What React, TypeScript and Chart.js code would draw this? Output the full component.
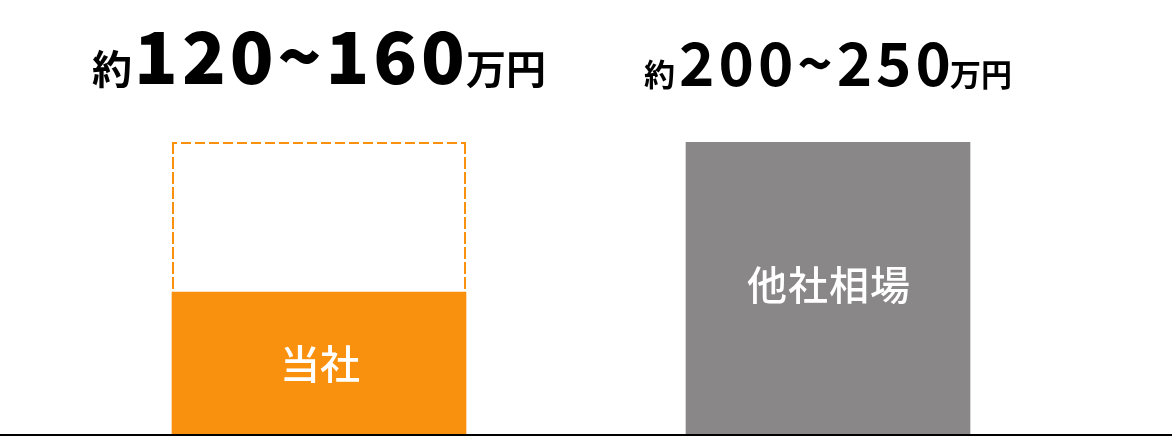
import React, { useEffect, useRef } from "react";
import { Chart, registerables } from "chart.js";

Chart.register(...registerables);

const categories = ["当社", "他社相場"];
const priceLabels = ["約120~160万円", "約200~250万円"];
const ourBase = [122, null];
const ourRange = [[122, 250], null];
const marketValues = [null, 250];

const ORANGE = "#FA910E";
const GRAY = "#898788";
const FONT = '"Noto Sans CJK JP", "Noto Sans", sans-serif';

const labelStyles = [
  { small: 40, smallLs: 0, big: 72, bigWeight: 900, spacing: 4, gap1: 2, gap2: -3, lift: 58 },
  { small: 31, smallLs: 0, big: 60, bigWeight: 700, spacing: 4, gap1: 4, gap2: -5, lift: 56 },
];

const decorPlugin = {
  id: "decor",
  afterDatasetsDraw(chart: any) {
    const ctx = chart.ctx;
    const area = chart.chartArea;

    // dashed outline on the range bar
    const rangeMeta = chart.getDatasetMeta(1);
    const rEl = rangeMeta.data[0];
    if (rEl) {
      const left = rEl.x - rEl.width / 2;
      const right = rEl.x + rEl.width / 2;
      const top = Math.min(rEl.y, rEl.base);
      const bottom = Math.max(rEl.y, rEl.base);
      ctx.save();
      ctx.strokeStyle = ORANGE;
      ctx.lineWidth = 2;
      ctx.setLineDash([10, 4]);
      ctx.lineDashOffset = 5;
      ctx.beginPath();
      ctx.moveTo(left, top + 1);
      ctx.lineTo(right, top + 1);
      ctx.stroke();
      ctx.setLineDash([12, 3]);
      ctx.lineDashOffset = 0;
      ctx.beginPath();
      ctx.moveTo(left + 1, top);
      ctx.lineTo(left + 1, bottom);
      ctx.stroke();
      ctx.beginPath();
      ctx.moveTo(right - 1, top);
      ctx.lineTo(right - 1, bottom);
      ctx.stroke();
      ctx.restore();
    }

    // names inside bars
    const inner = [
      { el: chart.getDatasetMeta(0).data[0], text: categories[0], dy: 0, ls: 0 },
      { el: chart.getDatasetMeta(2).data[1], text: categories[1], dy: -4, ls: 1 },
    ];
    ctx.save();
    ctx.fillStyle = "#ffffff";
    ctx.textAlign = "center";
    ctx.textBaseline = "middle";
    ctx.font = `500 40px ${FONT}`;
    inner.forEach((it) => {
      if (!it.el) return;
      (ctx as any).letterSpacing = `${it.ls}px`;
      const cy = (it.el.y + it.el.base) / 2;
      ctx.fillText(it.text, it.el.x + 1, cy + it.dy);
    });
    ctx.restore();

    // price labels above
    const tops = [chart.getDatasetMeta(1).data[0], chart.getDatasetMeta(2).data[1]];
    priceLabels.forEach((label, i) => {
      const el = tops[i];
      if (!el) return;
      const st = labelStyles[i];
      const m = label.match(/^(約)(.+?)(万円)$/);
      if (!m) return;
      const segs = [
        { t: m[1], font: `700 ${st.small}px ${FONT}`, ls: 0, gap: st.gap1 },
        { t: m[2], font: `${st.bigWeight} ${st.big}px ${FONT}`, ls: st.spacing, gap: st.gap2 },
        { t: m[3], font: `700 ${st.small}px ${FONT}`, ls: st.smallLs, gap: 0 },
      ];
      ctx.save();
      ctx.fillStyle = "#000000";
      ctx.textAlign = "left";
      ctx.textBaseline = "alphabetic";
      let total = 0;
      const widths = segs.map((s) => {
        ctx.font = s.font;
        (ctx as any).letterSpacing = `${s.ls}px`;
        const w = ctx.measureText(s.t).width;
        total += w + s.gap;
        return w;
      });
      const top = Math.min(el.y, el.base);
      const baseY = top - st.lift;
      let x = el.x - total / 2;
      segs.forEach((s, k) => {
        ctx.font = s.font;
        (ctx as any).letterSpacing = `${s.ls}px`;
        ctx.fillText(s.t, x, baseY);
        x += widths[k] + s.gap;
      });
      ctx.restore();
    });

    // baseline
    ctx.save();
    ctx.strokeStyle = "#000000";
    ctx.lineWidth = 2;
    ctx.beginPath();
    ctx.moveTo(0, area.bottom);
    ctx.lineTo(chart.width, area.bottom);
    ctx.stroke();
    ctx.restore();
  },
};

export default function App() {
  const canvasRef = useRef<HTMLCanvasElement | null>(null);

  useEffect(() => {
    document.body.style.margin = "0";
    const canvas = canvasRef.current;
    if (!canvas) return;
    const chart = new Chart(canvas, {
      type: "bar",
      data: {
        labels: categories,
        datasets: [
          {
            label: "当社",
            data: ourBase as any,
            backgroundColor: ORANGE,
            barThickness: 294,
            grouped: false,
            order: 1,
          },
          {
            label: "当社レンジ",
            data: ourRange as any,
            backgroundColor: "rgba(0,0,0,0)",
            barThickness: 294,
            grouped: false,
            order: 2,
          },
          {
            label: "他社相場",
            data: marketValues as any,
            backgroundColor: GRAY,
            barThickness: 284,
            grouped: false,
            order: 3,
          },
        ],
      },
      plugins: [decorPlugin],
      options: {
        responsive: false,
        animation: false,
        devicePixelRatio: 1,
        layout: { padding: { left: 64.5, right: 89.5, top: 142, bottom: 1 } },
        plugins: {
          legend: { display: false },
          tooltip: { enabled: false },
          title: { display: false },
        },
        scales: {
          x: { display: false, grid: { display: false } },
          y: { display: false, min: 0, max: 250, grid: { display: false } },
        },
      },
    });
    return () => chart.destroy();
  }, []);

  return (
    <div style={{ width: 1172, height: 436, background: "#fff" }}>
      <canvas ref={canvasRef} width={1172} height={436} style={{ display: "block" }} />
    </div>
  );
}
